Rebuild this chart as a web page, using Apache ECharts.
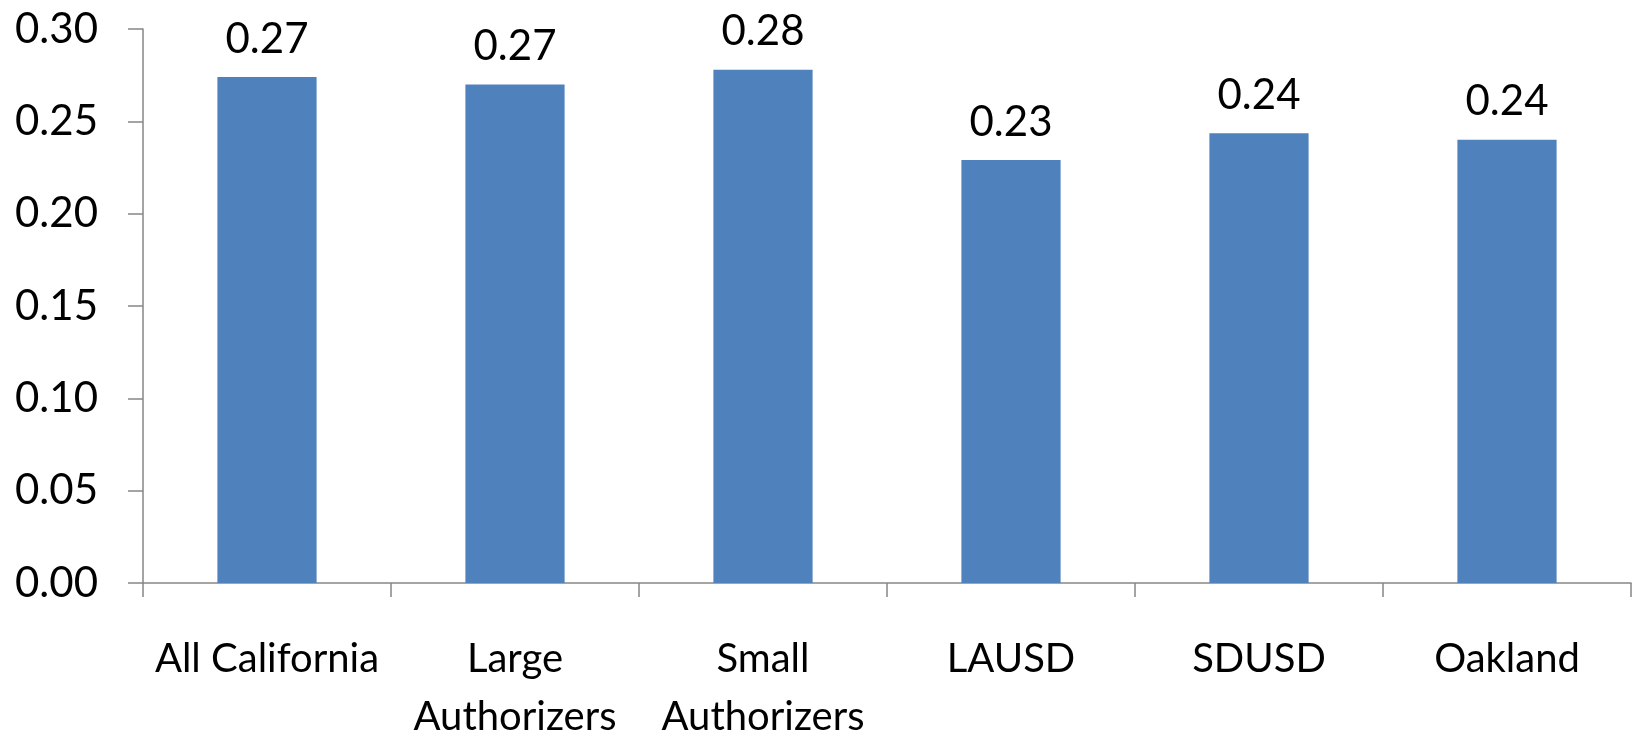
<!DOCTYPE html>
<html><head><meta charset="utf-8">
<script src="https://cdn.jsdelivr.net/npm/echarts@6/dist/echarts.min.js"></script>
<style>html,body{margin:0;padding:0;background:#fff}#c{width:1637px;height:739px}</style>
</head><body><div id="c"></div>
<script>
const categories = ["All California", "Large\nAuthorizers", "Small\nAuthorizers", "LAUSD", "SDUSD", "Oakland"];
const values = [0.274, 0.270, 0.278, 0.229, 0.2435, 0.240];
const yTicks = [0, 0.05, 0.10, 0.15, 0.20, 0.25, 0.30];

const FONT = "Lato";
const chart = echarts.init(document.getElementById('c'));
chart.setOption({
  animation: false,
  grid: { left: 143, top: 29, right: 6, bottom: 156, containLabel: false, outerBoundsMode: 'none' },
  xAxis: {
    type: 'category',
    data: categories,
    axisLine: { lineStyle: { color: '#868686', width: 1.5 } },
    axisTick: { show: true, length: 14, lineStyle: { color: '#868686', width: 1.5 } },
    axisLabel: { color: '#000', fontFamily: FONT, fontSize: 40, margin: 47, lineHeight: 58, interval: 0 }
  },
  yAxis: {
    type: 'value',
    min: yTicks[0], max: yTicks[yTicks.length - 1], interval: 0.05,
    axisLine: { show: true, lineStyle: { color: '#868686', width: 1.5 } },
    axisTick: { show: true, length: 15, lineStyle: { color: '#868686', width: 1.5 } },
    splitLine: { show: false },
    axisLabel: { color: '#000', fontFamily: FONT, fontSize: 42, margin: 45, formatter: v => v.toFixed(2) }
  },
  series: [{
    type: 'bar',
    data: values,
    barWidth: '40%',
    itemStyle: { color: '#4F81BD' },
    label: { show: true, position: 'top', distance: 17, color: '#000', fontFamily: FONT, fontSize: 42,
      formatter: p => p.value.toFixed(2) }
  }]
});
</script></body></html>
